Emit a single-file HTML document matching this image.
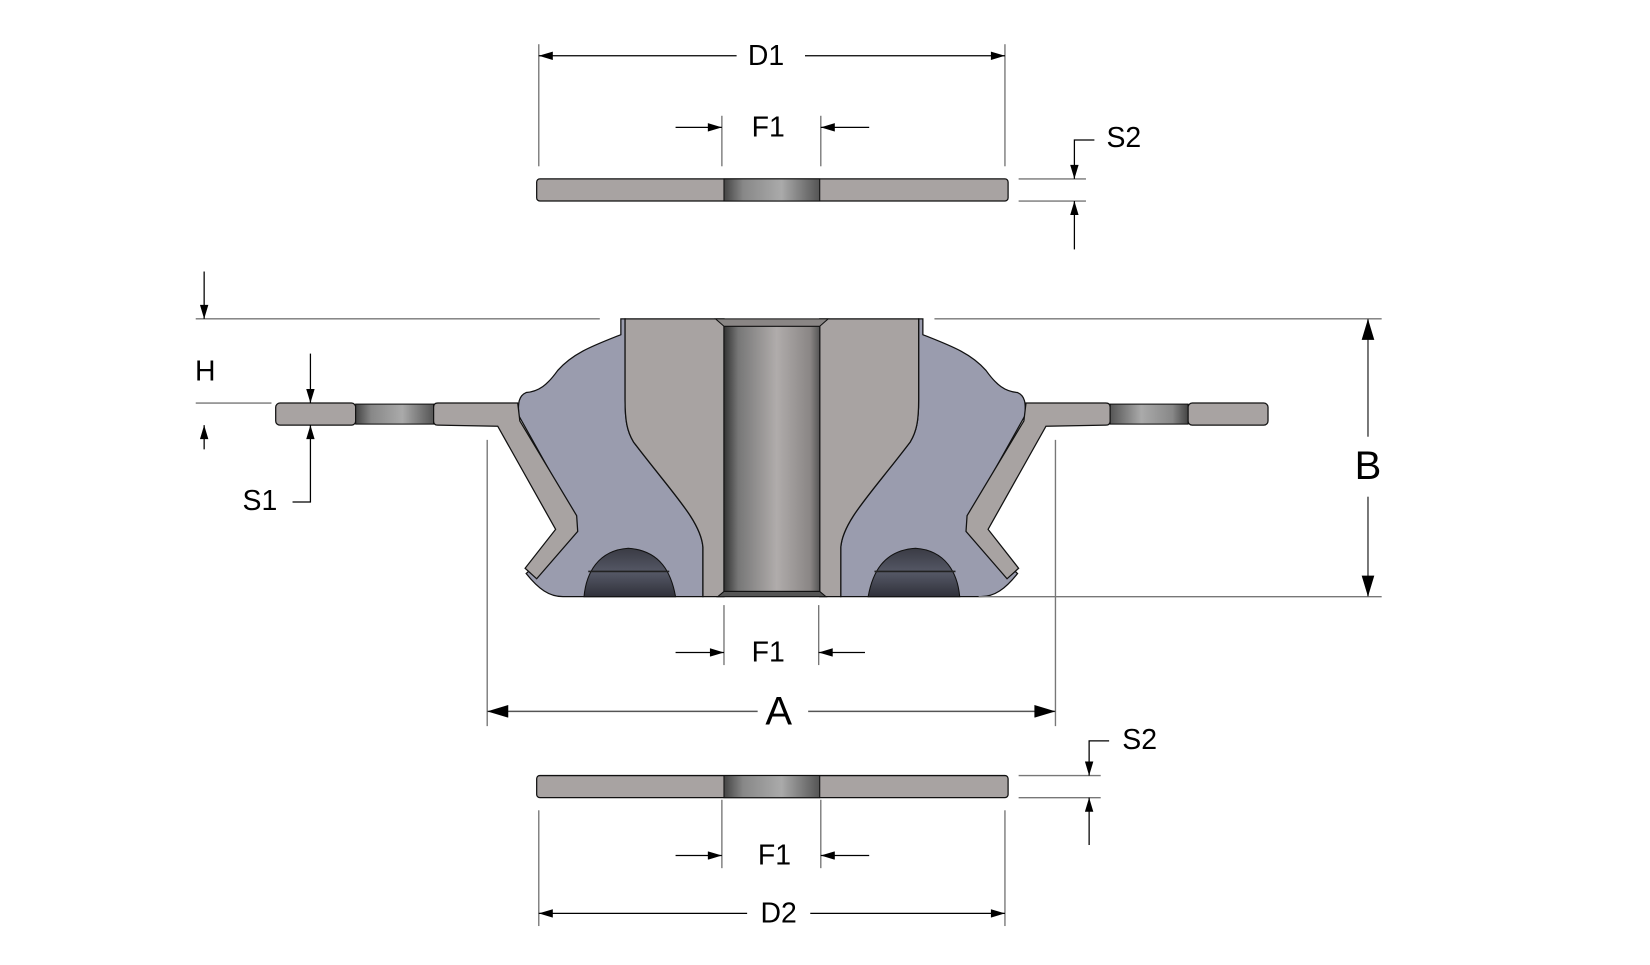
<!DOCTYPE html>
<html><head><style>
html,body{margin:0;padding:0;background:#fff;}
svg{display:block;}
text{font-family:"Liberation Sans",Arial,sans-serif;fill:#000;}
</style></head><body>
<svg width="1650" height="965" viewBox="0 0 1568 917" xmlns="http://www.w3.org/2000/svg">
<defs>
<marker id="ar" viewBox="0 0 10 6" refX="10" refY="3" markerWidth="18" markerHeight="8" markerUnits="userSpaceOnUse" orient="auto"><path d="M0,0 L10,3 L0,6 Z" fill="#000"/></marker>
<marker id="arb" viewBox="0 0 10 6" refX="10" refY="3" markerWidth="22" markerHeight="12" markerUnits="userSpaceOnUse" orient="auto"><path d="M0,0 L10,3 L0,6 Z" fill="#000"/></marker>
<linearGradient id="bore" x1="0" x2="1" y1="0" y2="0">
<stop offset="0" stop-color="#333"/><stop offset="0.15" stop-color="#777"/><stop offset="0.55" stop-color="#b0acab"/><stop offset="0.9" stop-color="#8a8685"/><stop offset="1" stop-color="#555"/></linearGradient>
<linearGradient id="hole" x1="0" x2="1" y1="0" y2="0">
<stop offset="0" stop-color="#444"/><stop offset="0.2" stop-color="#888"/><stop offset="0.6" stop-color="#aaa"/><stop offset="1" stop-color="#555"/></linearGradient>
<linearGradient id="cav" x1="0" x2="0" y1="0" y2="1">
<stop offset="0" stop-color="#3a3b44"/><stop offset="0.5" stop-color="#555866"/><stop offset="1" stop-color="#30313a"/></linearGradient>
<g id="half">
<path d="M590,318 C565,328 545,335 530,352 C520,366 512,372 500,373 C493,376 492,383 493,395 L545,488 L545,505 L500,545 C512,560 522,567 535,567 L668,567 L668,520 C666,495 640,470 602,420 C596,410 594,400 594,380 L594,303 L590,303 Z" fill="#9a9cae" stroke="#111" stroke-width="1.2"/>
<path d="M555,567 C557,545 568,523 597,521 C628,523 638,545 642,567 Z" fill="url(#cav)" stroke="#111" stroke-width="1"/>
<line x1="559" y1="543" x2="636" y2="543" stroke="#222" stroke-width="1.5"/>
<path d="M594,303 L688,303 L688,567 L668,567 L668,520 C666,495 640,470 602,420 C596,410 594,400 594,380 Z" fill="#a8a3a2" stroke="#111" stroke-width="1.2"/>
<path d="M416,383 L492,383 L494,400 L548,490 L549,505 L510,550 L499,540 L528,503 L473,405 L416,404 Q412,404 412,400 L412,387 Q412,383 416,383 Z" fill="#a8a3a2" stroke="#111" stroke-width="1.2"/>
<rect x="262" y="383" width="76" height="21" rx="4" fill="#a8a3a2" stroke="#111" stroke-width="1.2"/>
<rect x="338" y="384" width="74" height="19" fill="url(#hole)" stroke="#111" stroke-width="1"/>
</g>
</defs>

<rect x="510" y="170" width="448" height="21" rx="3" fill="#a8a3a2" stroke="#111" stroke-width="1.2"/>
<rect x="688" y="170" width="91" height="21" fill="url(#hole)" stroke="#111" stroke-width="1"/>
<rect x="510" y="737" width="448" height="21" rx="3" fill="#a8a3a2" stroke="#111" stroke-width="1.2"/>
<rect x="688" y="737" width="91" height="21" fill="url(#hole)" stroke="#111" stroke-width="1"/>

<use href="#half"/>
<use href="#half" transform="translate(1467,0) scale(-1,1)"/>
<rect x="688" y="310" width="91" height="252" fill="url(#bore)" stroke="#111" stroke-width="1"/>
<path d="M680,303 L787,303 L779,310 L688,310 Z" fill="#8a8685" stroke="#111" stroke-width="1"/>
<path d="M688,562 L779,562 L785,567 L682,567 Z" fill="#555" stroke="#111" stroke-width="1"/>

<g stroke="#777" stroke-width="1.3" fill="none">
<line x1="512" y1="42" x2="512" y2="158"/><line x1="955" y1="42" x2="955" y2="158"/>
<line x1="686" y1="110" x2="686" y2="158"/><line x1="780" y1="110" x2="780" y2="158"/>
<line x1="968" y1="170" x2="1032" y2="170"/><line x1="968" y1="191" x2="1032" y2="191"/>
<line x1="186" y1="303" x2="570" y2="303"/><line x1="888" y1="303" x2="1313" y2="303"/>
<line x1="930" y1="567" x2="1313" y2="567"/>
<line x1="186" y1="383" x2="258" y2="383"/>
<line x1="463" y1="418" x2="463" y2="690"/><line x1="1003" y1="418" x2="1003" y2="690"/>
<line x1="688" y1="575" x2="688" y2="632"/><line x1="778" y1="575" x2="778" y2="632"/>
<line x1="968" y1="737" x2="1046" y2="737"/><line x1="968" y1="758" x2="1046" y2="758"/>
<line x1="686" y1="760" x2="686" y2="825"/><line x1="780" y1="760" x2="780" y2="825"/>
<line x1="512" y1="770" x2="512" y2="880"/><line x1="955" y1="770" x2="955" y2="880"/>
</g>

<g stroke="#000" stroke-width="1.2" fill="none" marker-end="url(#ar)">
<line x1="700" y1="53" x2="512" y2="53"/><line x1="765" y1="53" x2="955" y2="53"/>
<line x1="642" y1="121" x2="686" y2="121"/><line x1="826" y1="121" x2="780" y2="121"/>
<path d="M1040,133 L1021,133 L1021,170"/><line x1="1021" y1="237" x2="1021" y2="191"/>
<line x1="194" y1="258" x2="194" y2="303"/><line x1="194" y1="427" x2="194" y2="404"/>
<line x1="295" y1="336" x2="295" y2="383"/><path d="M278,477 L295,477 L295,404"/>
<line x1="642" y1="620" x2="688" y2="620"/><line x1="822" y1="620" x2="778" y2="620"/>
<path d="M1054,704 L1035,704 L1035,737"/><line x1="1035" y1="803" x2="1035" y2="758"/>
<line x1="642" y1="813" x2="686" y2="813"/><line x1="826" y1="813" x2="780" y2="813"/>
<line x1="710" y1="868" x2="512" y2="868"/><line x1="770" y1="868" x2="955" y2="868"/>
</g>
<g stroke="#555" stroke-width="1.5" fill="none" marker-end="url(#arb)">
<line x1="1300" y1="415" x2="1300" y2="303"/><line x1="1300" y1="472" x2="1300" y2="567"/>
<line x1="720" y1="676" x2="463" y2="676"/><line x1="768" y1="676" x2="1003" y2="676"/>
</g>

<g font-size="27" text-anchor="middle" dominant-baseline="central">
<text x="728" y="53">D1</text>
<text x="730" y="121">F1</text>
<text x="1068" y="131">S2</text>
<text x="195" y="353">H</text>
<text x="247" y="476">S1</text>
<text x="1300" y="443" font-size="38">B</text>
<text x="730" y="620">F1</text>
<text x="740" y="676" font-size="38">A</text>
<text x="1083" y="703">S2</text>
<text x="736" y="813">F1</text>
<text x="740" y="868">D2</text>
</g>
</svg>
</body></html>
